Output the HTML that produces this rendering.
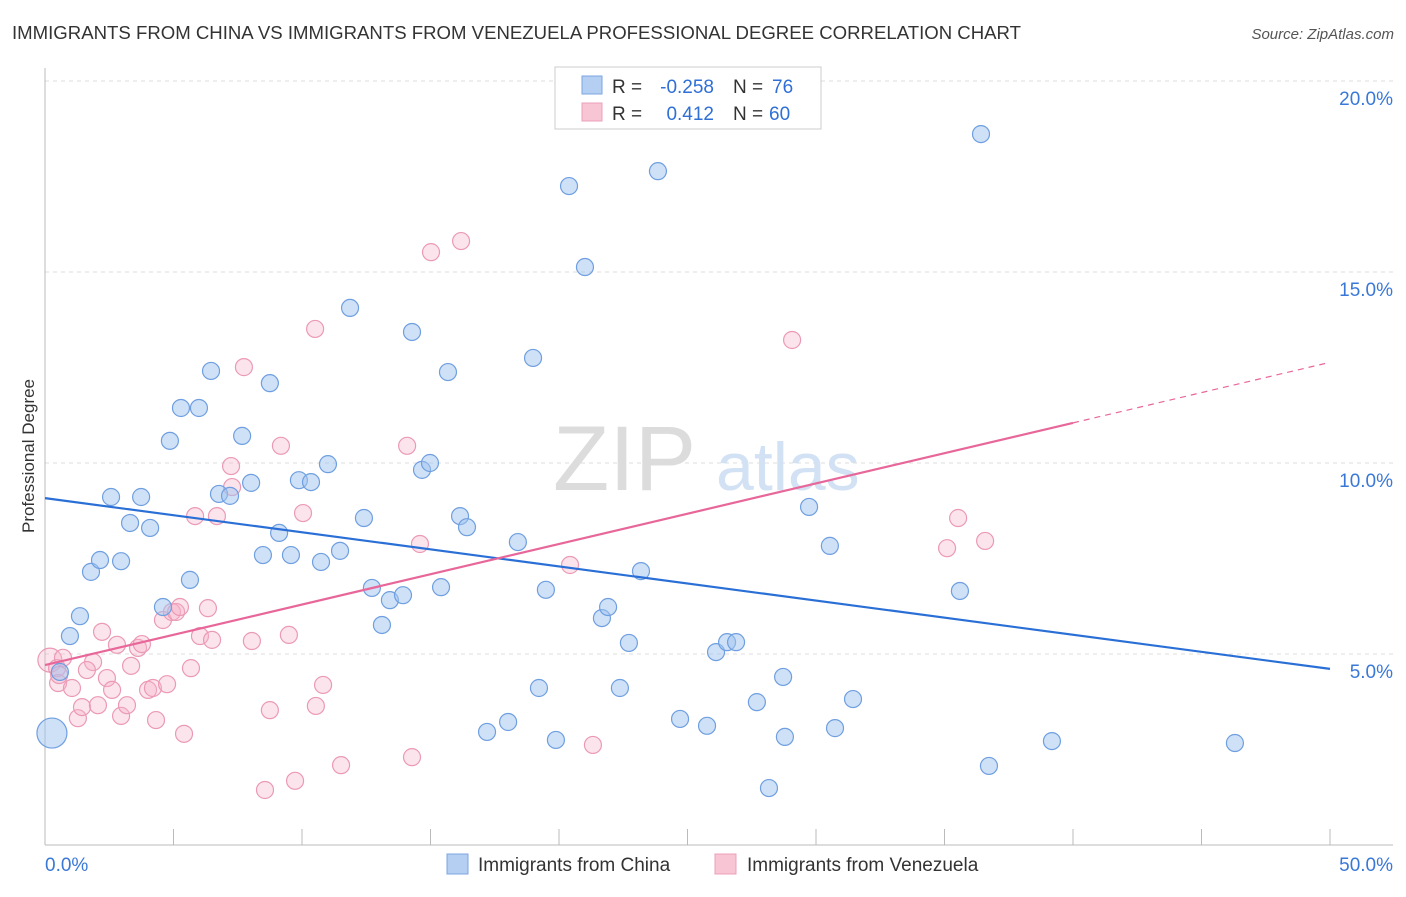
<!DOCTYPE html>
<html><head><meta charset="utf-8"><style>
body{margin:0;background:#fff;font-family:"Liberation Sans",sans-serif;}
svg text{font-family:"Liberation Sans",sans-serif;}
</style></head><body>
<svg width="1406" height="892" viewBox="0 0 1406 892" xmlns="http://www.w3.org/2000/svg">
<text x="12" y="39" font-size="18.6" fill="#333">IMMIGRANTS FROM CHINA VS IMMIGRANTS FROM VENEZUELA PROFESSIONAL DEGREE CORRELATION CHART</text>
<text x="1394" y="39" font-size="15" fill="#555" font-style="italic" text-anchor="end">Source: ZipAtlas.com</text>
<g id="grid"></g>
<g id="axes"></g>
<text x="553" y="490" font-size="92" fill="#dcdcdc" font-family="Liberation Serif">ZIP</text>
<text x="716" y="490" font-size="68" fill="#d2e2f4">atlas</text>
<g id="pts"></g>
<g id="lines"></g>
<text transform="translate(34,456) rotate(-90)" font-size="17" fill="#333" text-anchor="middle">Professional Degree</text>
<g>
<rect x="555" y="67" width="266" height="62" fill="#fff" stroke="#ccc"/>
<rect x="582" y="76" width="20" height="18" fill="#b5cff2" stroke="#7aa6e0"/>
<rect x="582" y="103" width="20" height="18" fill="#f8c5d5" stroke="#eca0b8"/>
<text x="612" y="93" font-size="19" fill="#333">R =</text>
<text x="714" y="93" font-size="19" fill="#2f6fd6" text-anchor="end">-0.258</text>
<text x="733" y="93" font-size="19" fill="#333">N =</text>
<text x="772" y="93" font-size="19" fill="#2f6fd6">76</text>
<text x="612" y="120" font-size="19" fill="#333">R =</text>
<text x="714" y="120" font-size="19" fill="#2f6fd6" text-anchor="end">0.412</text>
<text x="733" y="120" font-size="19" fill="#333">N =</text>
<text x="769" y="120" font-size="19" fill="#2f6fd6">60</text>
</g>
<g>
<rect x="447" y="854" width="21" height="20" fill="#b5cff2" stroke="#7aa6e0"/>
<text x="478" y="871" font-size="19" fill="#333">Immigrants from China</text>
<rect x="715" y="854" width="21" height="20" fill="#f8c5d5" stroke="#eca0b8"/>
<text x="747" y="871" font-size="19" fill="#333">Immigrants from Venezuela</text>
</g>
</svg>
<script>
const yTicks=[5,10,15,20];
const xTickLabels=["0.0%","50.0%"];
const chinaX=[0.27,0.97,1.36,1.79,2.14,2.96,2.57,3.74,3.31,4.09,4.86,5.29,5.99,6.46,5.64,4.59,6.77,7.20,7.67,8.02,8.75,8.48,9.11,9.57,9.88,10.35,10.74,11.01,11.48,11.87,12.41,12.72,13.11,13.42,13.93,14.28,14.67,14.98,15.41,15.68,16.15,16.42,17.20,18.02,18.40,18.99,19.22,19.49,19.88,20.39,21.01,21.67,21.91,22.37,22.72,23.19,23.85,24.71,25.76,26.11,26.54,26.89,27.70,28.17,28.72,28.79,29.73,30.54,30.74,31.44,35.60,36.42,36.73,39.18,46.30,0.58];
const chinaY=[2.93,5.47,5.99,7.15,7.46,7.43,9.11,9.11,8.43,8.30,10.58,11.44,11.44,12.41,6.94,6.23,9.19,9.14,10.71,9.48,12.09,7.59,8.17,7.59,9.55,9.50,7.41,9.97,7.70,14.06,8.56,6.73,5.76,6.41,6.54,13.43,9.82,10.0,6.75,12.38,8.61,8.32,2.96,3.22,7.93,12.75,4.11,6.68,2.75,17.25,15.13,5.94,6.23,4.11,5.29,7.17,17.64,3.30,3.12,5.05,5.31,5.31,3.74,1.49,4.40,2.83,8.85,7.83,3.06,3.82,6.65,18.61,2.07,2.72,2.67,4.53];
const venX=[0.19,0.47,0.70,0.51,1.05,1.28,1.44,1.87,1.63,2.06,2.22,2.41,2.61,2.80,2.96,3.19,3.35,3.62,3.77,4.01,4.20,4.32,4.59,4.75,4.94,5.10,5.25,5.41,5.68,5.84,6.03,6.34,6.50,6.69,7.24,7.28,7.74,8.05,8.56,8.75,9.18,9.49,9.73,10.04,10.51,10.54,10.82,11.52,14.09,14.28,14.59,15.02,16.19,20.43,21.32,29.07,35.10,35.53,36.58,0.55];
const venY=[4.84,4.63,4.90,4.24,4.11,3.32,3.61,4.79,4.58,3.66,5.58,4.37,4.06,5.24,3.38,3.66,4.69,5.16,5.26,4.06,4.11,3.27,5.89,4.21,6.10,6.10,6.23,2.91,4.63,8.61,5.47,6.20,5.37,8.61,9.92,9.37,12.51,5.34,1.44,3.53,10.45,5.50,1.68,8.69,13.51,3.64,4.19,2.09,10.45,2.30,7.88,15.52,15.81,7.33,2.62,13.22,7.77,8.56,7.96,4.45];
const chinaBig=[0]; const venBig=[0];
const chinaTrend=[9.08,4.61]; const venTrend=[4.71,0.1585];
const NS="http://www.w3.org/2000/svg";
const X=v=>45+v*25.7, Y=v=>845-v*38.2;
function mk(t,a,p){const e=document.createElementNS(NS,t);for(const k in a)e.setAttribute(k,a[k]);p.appendChild(e);return e;}
const grid=document.getElementById('grid'),axes=document.getElementById('axes'),pts=document.getElementById('pts'),lines=document.getElementById('lines');
yTicks.forEach(v=>{const l=mk('line',{x1:45,x2:1393,y1:Y(v),y2:Y(v),stroke:'#ddd','stroke-dasharray':'4,4'},grid);


const t=mk('text',{x:1393,y:Y(v)+24,'font-size':19,fill:'#3a78d8','text-anchor':'end'},axes);t.textContent=v.toFixed(1)+'%';

});
mk('line',{x1:45,x2:45,y1:68,y2:845,stroke:'#bbb'},axes);
mk('line',{x1:45,x2:1393,y1:845,y2:845,stroke:'#bbb'},axes);
for(let i=0;i<=10;i++){const t=mk('line',{x1:X(i*5),x2:X(i*5),y1:829,y2:845,stroke:'#bbb'},axes);

}
[[0,'start',45],[50,'end',1393]].forEach((d,i)=>{const t=mk('text',{x:d[2],y:871,'font-size':19,fill:'#3a78d8','text-anchor':d[1]},axes);t.textContent=xTickLabels[i];

});
function dots(xs,ys,big,fill,stroke,name,bigR){xs.forEach((x,i)=>{const c=mk('circle',{cx:X(x),cy:Y(ys[i]),r:big.includes(i)?bigR:8.5,fill:fill,stroke:stroke,'stroke-width':1.2},pts);

});}
dots(venX,venY,venBig,'rgba(246,178,200,0.35)','#eb9ab5','venezuela-point',12);
dots(chinaX,chinaY,chinaBig,'rgba(160,196,240,0.5)','#6f9fe0','china-point',15);
const bl=mk('line',{x1:X(0),y1:Y(chinaTrend[0]),x2:X(50),y2:Y(chinaTrend[1]),stroke:'#2a6fd6','stroke-width':2.2},lines);


const pv=x=>venTrend[0]+venTrend[1]*x;
const pl=mk('line',{x1:X(0),y1:Y(pv(0)),x2:X(40),y2:Y(pv(40)),stroke:'#e8679a','stroke-width':2.2},lines);


const pd=mk('line',{x1:X(40),y1:Y(pv(40)),x2:X(50),y2:Y(pv(50)),stroke:'#e8679a','stroke-width':1.2,'stroke-dasharray':'6,5'},lines);


</script>
</body></html>
